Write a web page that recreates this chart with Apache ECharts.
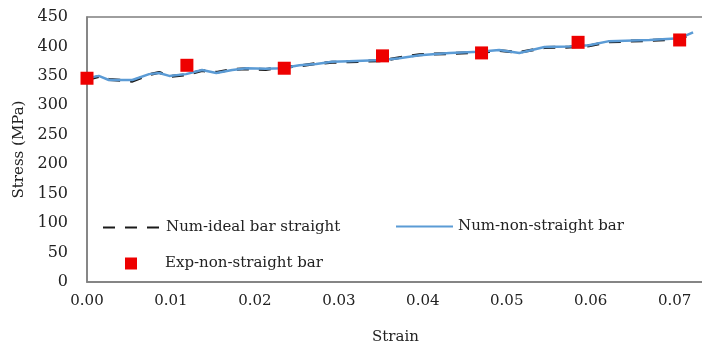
<!DOCTYPE html>
<html lang="en">
<head>
  <meta charset="UTF-8">
  <script src="https://cdn.jsdelivr.net/npm/echarts/dist/echarts.min.js"></script>
  <style>
    html, body { margin: 0; padding: 0; background: #fff; }
    #chart { width: 702px; height: 346px; }
  </style>
</head>
<body>
  <div id="chart"></div>
  <script>
    // strain values along the numerical curves
    const strainNum = [0, 0.0014, 0.0026, 0.0054, 0.0074, 0.0086, 0.0098, 0.0118, 0.0137, 0.0154,
      0.0173, 0.019, 0.0213, 0.0232, 0.0253, 0.0273, 0.0292, 0.0312, 0.0352, 0.0372,
      0.0396, 0.0432, 0.0467, 0.0491, 0.0515, 0.0545, 0.0575, 0.0598, 0.0622, 0.067,
      0.0706, 0.0722];
    const stressIdeal = [344, 349, 344, 341, 352, 356, 349, 352, 359, 356,
      361, 362, 361, 364, 367, 371, 373, 374, 376, 381,
      386, 388, 390, 393, 390, 398, 399, 401, 408, 410,
      413, 422];
    const stressNonStraight = [346, 350, 343, 343, 353, 355, 350, 353, 360, 355,
      360, 363, 362, 363, 368, 370, 374, 375, 377, 380,
      385, 389, 391, 394, 389, 399, 400, 402, 409, 411,
      414, 424];
    // experimental points
    const strainExp = [0, 0.0119, 0.0235, 0.0352, 0.047, 0.0585, 0.0706];
    const stressExp = [346, 368, 363, 384, 389, 407, 411];

    const names = ['Num-ideal bar straight', 'Num-non-straight bar', 'Exp-non-straight bar'];

    const font = 'DejaVu Serif';
    const textColor = '#222';
    const axisColor = '#7f7f7f';

    const pair = (xs, ys) => xs.map((x, i) => [x, ys[i]]);

    const chart = echarts.init(document.getElementById('chart'));
    chart.setOption({
      animation: false,
      textStyle: { fontFamily: font, color: textColor },
      grid: {
        left: 87, top: 17, width: 617, height: 265,
        outerBoundsMode: 'none', containLabel: false,
        show: true, borderColor: axisColor, borderWidth: 1.5, backgroundColor: 'transparent'
      },
      legend: [
        {
          data: [names[0]], left: 97, top: 215, itemWidth: 58, itemHeight: 14,
          itemStyle: { opacity: 0 },
          textStyle: { fontFamily: font, fontSize: 15, color: textColor }
        },
        {
          data: [names[1]], left: 390, top: 214, itemWidth: 57, itemHeight: 14,
          itemStyle: { opacity: 0 },
          textStyle: { fontFamily: font, fontSize: 15, color: textColor }
        },
        {
          data: [{ name: names[2], icon: 'rect' }], left: 120, top: 251, itemWidth: 12, itemHeight: 12,
          textStyle: { fontFamily: font, fontSize: 15, color: textColor, padding: [0, 0, 0, 23] }
        }
      ],
      xAxis: {
        type: 'value', min: 0, max: 0.0735, interval: 0.01,
        name: 'Strain', nameLocation: 'middle', nameGap: 48,
        nameTextStyle: { fontFamily: font, fontSize: 15, color: textColor },
        axisLine: { show: true, lineStyle: { color: axisColor, width: 1.5 } },
        axisTick: { show: false },
        splitLine: { show: false },
        axisLabel: {
          fontFamily: font, fontSize: 15, color: textColor, margin: 12,
          formatter: v => v.toFixed(2)
        }
      },
      yAxis: {
        type: 'value', min: 0, max: 450, interval: 50,
        name: 'Stress (MPa)', nameLocation: 'middle', nameGap: 60,
        nameTextStyle: { fontFamily: font, fontSize: 15, color: textColor },
        axisLine: { show: true, lineStyle: { color: axisColor, width: 1.5 } },
        axisTick: { show: false },
        splitLine: { show: false },
        axisLabel: { fontFamily: font, fontSize: 16, color: textColor, margin: 19 }
      },
      series: [
        {
          name: names[1], type: 'line', showSymbol: false, symbol: 'none',
          data: pair(strainNum, stressNonStraight),
          lineStyle: { color: '#5b9bd5', width: 2.5 },
          itemStyle: { color: '#5b9bd5' },
          z: 3
        },
        {
          name: names[0], type: 'line', showSymbol: false, symbol: 'none',
          data: pair(strainNum, stressIdeal),
          lineStyle: { color: '#1a1a1a', width: 3, type: [12, 10] },
          itemStyle: { color: '#1a1a1a' },
          z: 2
        },
        {
          name: names[2], type: 'scatter', symbol: 'rect', symbolSize: 13,
          data: pair(strainExp, stressExp),
          itemStyle: { color: '#ee0000', opacity: 1 },
          z: 4
        }
      ]
    });
  </script>
</body>
</html>
